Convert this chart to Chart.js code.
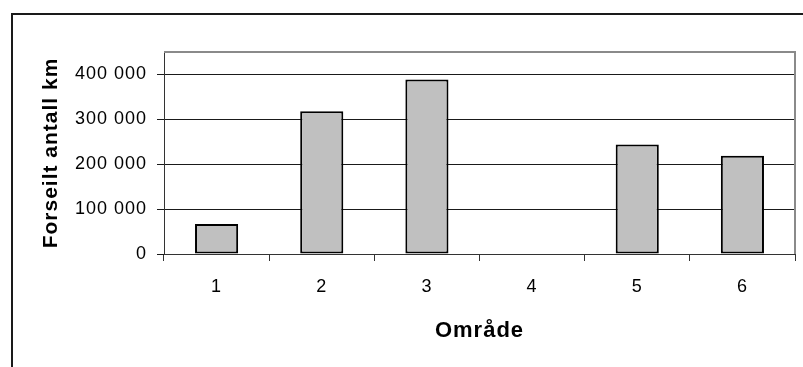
<!DOCTYPE html>
<html>
<head>
<meta charset="utf-8">
<title>Forseilt antall km per område</title>
<script src="https://cdn.jsdelivr.net/npm/chart.js@4/dist/chart.umd.min.js"></script>
<style>
  html, body { margin: 0; padding: 0; background: #fff; }
  #wrap { position: relative; width: 803px; height: 367px; overflow: hidden; }
  #frame {
    position: absolute; left: 11px; top: 13px; width: 900px; height: 500px;
    border-left: 2px solid #1a1a1a; border-top: 2px solid #1a1a1a;
    box-sizing: border-box; pointer-events: none;
  }
  canvas { position: absolute; left: 0; top: 0; }
</style>
</head>
<body>
<div id="wrap">
  <div id="frame"></div>
  <canvas id="chart" width="803" height="367"></canvas>
</div>
<script>
// Område (area) numbers and sailed kilometres per area
const areas = ['1', '2', '3', '4', '5', '6'];
const sailedKm = [67000, 318000, 389000, 0, 244000, 219000];
const yTicks = [0, 100000, 200000, 300000, 400000];

const FONT = '"Liberation Sans", Arial, sans-serif';

// Thousands separated by a space, e.g. 400 000
function spaced(v) {
  return String(v).replace(/\B(?=(\d{3})+(?!\d))/g, ' ');
}

// Slightly widened letter spacing for all chart text
const spacing = {
  id: 'spacing',
  beforeLayout(chart) { chart.ctx.letterSpacing = '1px'; },
  beforeDraw(chart) { chart.ctx.letterSpacing = '1px'; }
};

// Grey top and right edges of the plot area
const plotEdge = {
  id: 'plotEdge',
  afterDraw(chart) {
    const { ctx, chartArea: a } = chart;
    ctx.save();
    ctx.strokeStyle = '#8a8a8a';
    ctx.lineWidth = 2;
    ctx.beginPath();
    ctx.moveTo(a.left, a.top);
    ctx.lineTo(a.right, a.top);
    ctx.lineTo(a.right, a.bottom);
    ctx.stroke();
    ctx.restore();
  }
};

new Chart(document.getElementById('chart'), {
  type: 'bar',
  data: {
    labels: areas,
    datasets: [{
      data: sailedKm,
      backgroundColor: '#c0c0c0',
      borderColor: '#000000',
      borderWidth: 2,
      borderSkipped: false,
      barPercentage: 0.41,
      categoryPercentage: 1
    }]
  },
  options: {
    responsive: false,
    devicePixelRatio: 1,
    animation: false,
    layout: { padding: { top: 52, right: 8, left: 0, bottom: 0 } },
    plugins: {
      legend: { display: false },
      tooltip: { enabled: false }
    },
    scales: {
      x: {
        grid: {
          drawOnChartArea: false,
          drawTicks: true,
          tickLength: 7,
          color: '#333333',
          lineWidth: 1
        },
        border: { color: '#333333', width: 1 },
        ticks: {
          font: { family: FONT, size: 18 },
          color: '#000000',
          padding: 15,
          maxRotation: 0
        },
        title: {
          display: true,
          text: 'Område',
          font: { family: FONT, size: 22, weight: 'bold' },
          color: '#000000',
          padding: { top: 0, bottom: 23 }
        },
        afterFit(scale) { scale.height = 113; }
      },
      y: {
        min: 0,
        max: 450000,
        ticks: {
          stepSize: 100000,
          font: { family: FONT, size: 18 },
          color: '#000000',
          padding: 10,
          callback: (v) => spaced(v)
        },
        grid: {
          color: '#1a1a1a',
          lineWidth: 1,
          tickLength: 7,
          drawTicks: true
        },
        border: { color: '#333333', width: 1 },
        title: {
          display: true,
          text: 'Forseilt antall km',
          font: { family: FONT, size: 21, weight: 'bold' },
          color: '#000000',
          padding: { top: 39, bottom: 0 }
        },
        afterBuildTicks(scale) {
          scale.ticks = yTicks.map(v => ({ value: v }));
        },
        afterFit(scale) { scale.width = 164; }
      }
    }
  },
  plugins: [spacing, plotEdge]
});
</script>
</body>
</html>
